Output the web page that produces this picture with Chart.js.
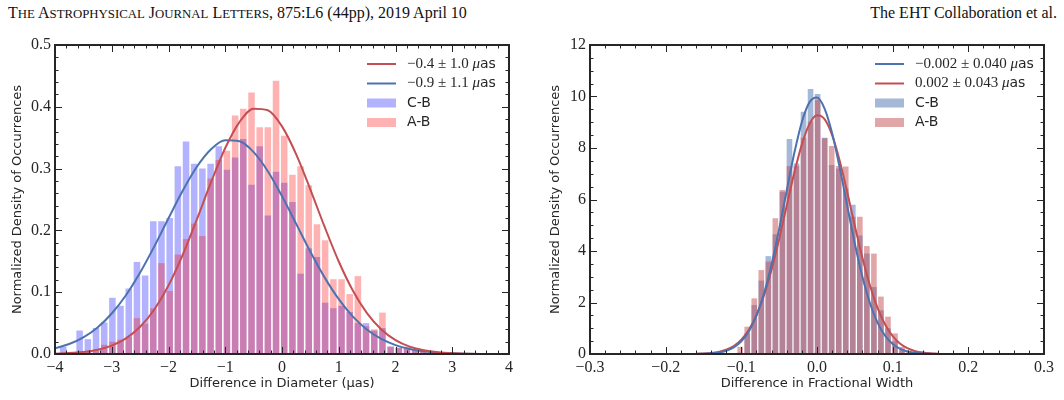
<!DOCTYPE html>
<html>
<head>
<meta charset="utf-8">
<script src="https://cdn.jsdelivr.net/npm/chart.js@4.4.0/dist/chart.umd.min.js"></script>
<style>
  body { margin:0; width:1064px; height:400px; background:#fff; position:relative; overflow:hidden; }
  .hdr { position:absolute; top:4px; font-family:"Liberation Serif"; font-size:16px; line-height:18px; color:#111; white-space:nowrap; }
  #hl { left:8px; }
  #hr { right:7px; }
  .sm { font-size:12.8px; }
  canvas { position:absolute; top:0; }
  #cl { left:0; }
  #cr { left:532px; }
</style>
</head>
<body>
<div class="hdr" id="hl">T<span class="sm">HE</span> A<span class="sm">STROPHYSICAL</span> J<span class="sm">OURNAL</span> L<span class="sm">ETTERS</span>, 875:L6 (44pp), 2019 April 10</div>
<div class="hdr" id="hr">The EHT Collaboration et al.</div>
<canvas id="cl" width="532" height="400"></canvas>
<canvas id="cr" width="532" height="400"></canvas>
<script>
// ---- left panel: difference in diameter ----
var binsDiam = [-3.854, -3.710, -3.566, -3.421, -3.277, -3.133, -2.989, -2.845, -2.700, -2.556,
    -2.412, -2.268, -2.124, -1.979, -1.835, -1.691, -1.547, -1.403, -1.258, -1.114,
    -0.970, -0.826, -0.682, -0.537, -0.393, -0.249, -0.105, 0.039, 0.184, 0.328,
    0.472, 0.616, 0.760, 0.905, 1.049, 1.193, 1.337, 1.481, 1.626, 1.770,
    1.914, 2.058, 2.202, 2.347, 2.491, 2.635, 2.779, 2.923];
var diamCB = [0.012, 0.0, 0.038, 0.024, 0.042, 0.051, 0.091, 0.078, 0.106, 0.149,
    0.127, 0.215, 0.215, 0.220, 0.304, 0.344, 0.308, 0.300, 0.308, 0.336,
    0.298, 0.318, 0.348, 0.274, 0.336, 0.224, 0.295, 0.277, 0.246, 0.130,
    0.171, 0.157, 0.083, 0.074, 0.078, 0.068, 0.050, 0.050, 0.038, 0.042,
    0.012, 0.010, 0.008, 0.006, 0.005, 0.003, 0.002, 0.0];
var diamAB = [0.002, 0.003, 0.004, 0.005, 0.006, 0.015, 0.020, 0.023, 0.028, 0.058,
    0.049, 0.074, 0.147, 0.102, 0.161, 0.186, 0.211, 0.191, 0.284, 0.314,
    0.329, 0.386, 0.397, 0.423, 0.367, 0.367, 0.442, 0.353, 0.290, 0.304,
    0.273, 0.210, 0.184, 0.121, 0.121, 0.097, 0.126, 0.045, 0.040, 0.067,
    0.012, 0.010, 0.012, 0.008, 0.006, 0.004, 0.003, 0.002];
var fitXDiam = [-4, -3.75, -3.5, -3.25, -3, -2.75, -2.5, -2.25, -2, -1.75, -1.5, -1.25, -1, -0.75, -0.5, -0.25,
    0, 0.25, 0.5, 0.75, 1, 1.25, 1.5, 1.75, 2, 2.25, 2.5, 2.75, 3, 3.25, 3.5, 3.75, 4];
var fitDiamAB = [0.0006, 0.0015, 0.0033, 0.0069, 0.0136, 0.0252, 0.0440, 0.0721, 0.1109, 0.1604, 0.2179,
    0.2780, 0.3333, 0.3753, 0.3970, 0.3945, 0.3683, 0.3231, 0.2661, 0.2060, 0.1497, 0.1023,
    0.0656, 0.0396, 0.0224, 0.0119, 0.0060, 0.0028, 0.0012, 0.0005, 0.0002, 0.0001, 0.0000];
var fitDiamCB = [0.0092, 0.0161, 0.0269, 0.0430, 0.0655, 0.0951, 0.1318, 0.1742, 0.2196, 0.2641, 0.3029,
    0.3313, 0.3457, 0.3441, 0.3266, 0.2958, 0.2555, 0.2105, 0.1654, 0.1240, 0.0887, 0.0604,
    0.0393, 0.0244, 0.0144, 0.0082, 0.0044, 0.0022, 0.0011, 0.0005, 0.0002, 0.0001, 0.0000];

// ---- right panel: difference in fractional width ----
var binsWidth = [-0.1015, -0.0922, -0.0829, -0.0736, -0.0643, -0.0550, -0.0457, -0.0364, -0.0271, -0.0178,
    -0.0085, 0.0008, 0.0101, 0.0194, 0.0287, 0.0380, 0.0473, 0.0566, 0.0659, 0.0752,
    0.0845, 0.0938, 0.1031, 0.1124, 0.1217];
var widthCB = [0.05, 0.8, 1.9, 2.85, 3.8, 4.65, 6.3, 8.35, 7.4, 9.41,
    10.29, 10.1, 8.4, 7.34, 7.2, 6.43, 5.8, 4.6, 3.9, 2.6,
    1.7, 1.0, 0.5, 0.15, 0.05];
var widthAB = [0.28, 1.06, 2.16, 3.26, 3.59, 5.27, 6.37, 7.3, 7.3, 8.4,
    9.02, 9.86, 8.38, 8.08, 7.3, 7.28, 5.33, 5.33, 4.19, 3.9,
    2.23, 1.45, 0.8, 0.28, 0.09];
var fitXWidth = [-0.16, -0.15, -0.14, -0.13, -0.12, -0.11, -0.10, -0.09, -0.08, -0.07, -0.06, -0.05, -0.04,
    -0.03, -0.02, -0.01, 0, 0.01, 0.02, 0.03, 0.04, 0.05, 0.06, 0.07, 0.08, 0.09, 0.10,
    0.11, 0.12, 0.13, 0.14, 0.15, 0.16];
var fitWidthCB = [0.004, 0.011, 0.026, 0.060, 0.128, 0.260, 0.496, 0.887, 1.489, 2.350, 3.485, 4.853, 6.351,
    7.804, 9.012, 9.772, 9.958, 9.531, 8.572, 7.239, 5.747, 4.283, 2.999, 1.973, 1.219, 0.708,
    0.386, 0.198, 0.095, 0.043, 0.018, 0.007, 0.003];
var fitWidthAB = [0.008, 0.018, 0.040, 0.083, 0.166, 0.312, 0.557, 0.940, 1.506, 2.284, 3.281, 4.467, 5.759,
    7.035, 8.140, 8.926, 9.270, 9.121, 8.501, 7.507, 6.280, 4.977, 3.735, 2.658, 1.791, 1.143,
    0.691, 0.395, 0.215, 0.110, 0.054, 0.025, 0.011];

var TXT = '#262626';
var RED = '#c44e52', BLUE = '#4c72b0';

function pts(xs, ys) {
    return xs.map(function(x, i) { return {x: x, y: ys[i]}; });
}

function fmt(v, d) {
    if (Math.abs(v) < 1e-9) v = 0;
    return (v < 0 ? '\u2212' : '') + Math.abs(v).toFixed(d);
}

// frame + inward ticks on all four sides, like the matplotlib style
var inwardTicks = {
    id: 'inwardTicks',
    afterDatasetsDraw: function(chart, args, o) {
        var ctx = chart.ctx, a = chart.chartArea;
        var sx = chart.scales.x, sy = chart.scales.y;
        ctx.save();
        ctx.strokeStyle = TXT;
        ctx.lineWidth = 1;
        function seg(x1, y1, x2, y2) {
            ctx.beginPath(); ctx.moveTo(x1, y1); ctx.lineTo(x2, y2); ctx.stroke();
        }
        function runX(step, len) {
            var n = Math.round((sx.max - sx.min) / step);
            for (var i = 0; i <= n; i++) {
                var p = Math.round(sx.getPixelForValue(sx.min + i * step)) + 0.5;
                seg(p, a.bottom, p, a.bottom - len);
                seg(p, a.top, p, a.top + len);
            }
        }
        function runY(step, len) {
            var n = Math.round((sy.max - sy.min) / step);
            for (var i = 0; i <= n; i++) {
                var p = Math.round(sy.getPixelForValue(sy.min + i * step)) + 0.5;
                seg(a.left, p, a.left + len, p);
                seg(a.right, p, a.right - len, p);
            }
        }
        runX(o.minorX, 3.5); runX(o.majorX, 7);
        runY(o.minorY, 3.5); runY(o.majorY, 7);
        ctx.lineWidth = 2;
        ctx.strokeRect(a.left, a.top, a.right - a.left, a.bottom - a.top);
        ctx.restore();
    }
};

function drawLabel(ctx, text, x, y) {
    var i = text.indexOf('\u03bc');
    ctx.fillStyle = TXT;
    ctx.textBaseline = 'middle';
    if (i < 0) {
        ctx.font = '14px "DejaVu Sans"';
        ctx.fillText(text, x, y);
        return;
    }
    var head = text.slice(0, i);
    ctx.font = '15px "Liberation Serif"';
    ctx.fillText(head, x, y);
    x += ctx.measureText(head).width;
    ctx.font = 'italic 15px "Liberation Serif"';
    ctx.fillText('\u03bc', x, y);
    x += ctx.measureText('\u03bc').width;
    ctx.font = '14px "DejaVu Sans"';
    ctx.fillText(text.slice(i + 1), x, y);
}

var boxLegend = {
    id: 'boxLegend',
    afterDraw: function(chart, args, o) {
        var ctx = chart.ctx;
        ctx.save();
        chart.data.datasets.forEach(function(ds, i) {
            var y = o.y + i * o.dy;
            if (ds.type === 'line') {
                ctx.strokeStyle = ds.borderColor;
                ctx.lineWidth = 2;
                ctx.beginPath(); ctx.moveTo(o.x, y); ctx.lineTo(o.x + 29, y); ctx.stroke();
            } else {
                ctx.fillStyle = ds.backgroundColor;
                ctx.fillRect(o.x, y - 4.5, 29, 9);
            }
            drawLabel(ctx, ds.label, o.x + 40, y);
        });
        ctx.restore();
    }
};

function lineSet(label, xs, ys, color) {
    return {type: 'line', label: label, data: pts(xs, ys), borderColor: color, borderWidth: 2,
        pointRadius: 0, cubicInterpolationMode: 'monotone', order: 0};
}

function barSet(label, xs, ys, color, order) {
    return {label: label, data: pts(xs, ys), backgroundColor: color, borderWidth: 0,
        grouped: false, barPercentage: 0.8, categoryPercentage: 1.0, order: order};
}

function panel(id, datasets, s) {
    new Chart(document.getElementById(id).getContext('2d'), {
        type: 'bar',
        data: {datasets: datasets},
        plugins: [inwardTicks, boxLegend],
        options: {
            responsive: false,
            animation: false,
            devicePixelRatio: 1,
            layout: {padding: {top: 45, right: s.padRight, left: 0, bottom: 0}},
            plugins: {
                legend: {display: false},
                tooltip: {enabled: false},
                inwardTicks: {majorX: s.xStep, minorX: s.xMinor, majorY: s.yStep, minorY: s.yMinor},
                boxLegend: {x: s.legX, y: 64, dy: 19.5}
            },
            scales: {
                x: {
                    type: 'linear', min: s.xMin, max: s.xMax, offset: false,
                    grid: {display: false, drawTicks: false}, border: {display: false},
                    ticks: {stepSize: s.xStep, padding: 4, color: TXT, maxRotation: 0, autoSkip: false,
                        font: {family: 'Liberation Serif', size: 16},
                        callback: function(v) { return fmt(v, s.xDec); }},
                    title: {display: true, text: s.xTitle, color: TXT,
                        font: {family: 'DejaVu Sans', size: 13}, padding: {top: 0, bottom: 9}},
                    afterFit: function(sc) { sc.height = 46; }
                },
                y: {
                    min: 0, max: s.yMax,
                    grid: {display: false, drawTicks: false}, border: {display: false},
                    ticks: {stepSize: s.yStep, padding: 4, color: TXT,
                        font: {family: 'Liberation Serif', size: 16},
                        callback: function(v) { return fmt(v, s.yDec); }},
                    title: {display: true, text: 'Normalized Density of Occurrences', color: TXT,
                        font: {family: 'DejaVu Sans', size: 13}, padding: {top: s.yTitlePad, bottom: 0}},
                    afterFit: function(sc) { sc.width = s.yWidth; }
                }
            }
        }
    });
}

panel('cl', [
    lineSet('\u22120.4 \u00b1 1.0 \u03bcas', fitXDiam, fitDiamAB, RED),
    lineSet('\u22120.9 \u00b1 1.1 \u03bcas', fitXDiam, fitDiamCB, BLUE),
    barSet('C-B', binsDiam, diamCB, 'rgba(0,0,255,0.3)', 2),
    barSet('A-B', binsDiam, diamAB, 'rgba(255,0,0,0.3)', 1)
], {xMin: -4, xMax: 4, xStep: 1, xMinor: 0.2, xDec: 0, xTitle: 'Difference in Diameter (\u03bcas)',
    yMax: 0.5, yStep: 0.1, yMinor: 0.02, yDec: 1, yWidth: 55, yTitlePad: 10, padRight: 23, legX: 367});

panel('cr', [
    lineSet('\u22120.002 \u00b1 0.040 \u03bcas', fitXWidth, fitWidthCB, BLUE),
    lineSet('0.002 \u00b1 0.043 \u03bcas', fitXWidth, fitWidthAB, RED),
    barSet('C-B', binsWidth, widthCB, 'rgba(76,114,176,0.5)', 2),
    barSet('A-B', binsWidth, widthAB, 'rgba(196,78,82,0.5)', 1)
], {xMin: -0.3, xMax: 0.3, xStep: 0.1, xMinor: 0.02, xDec: 1, xTitle: 'Difference in Fractional Width',
    yMax: 12, yStep: 2, yMinor: 0.5, yDec: 0, yWidth: 58, yTitlePad: 16, padRight: 20, legX: 343});
</script>
</body>
</html>
